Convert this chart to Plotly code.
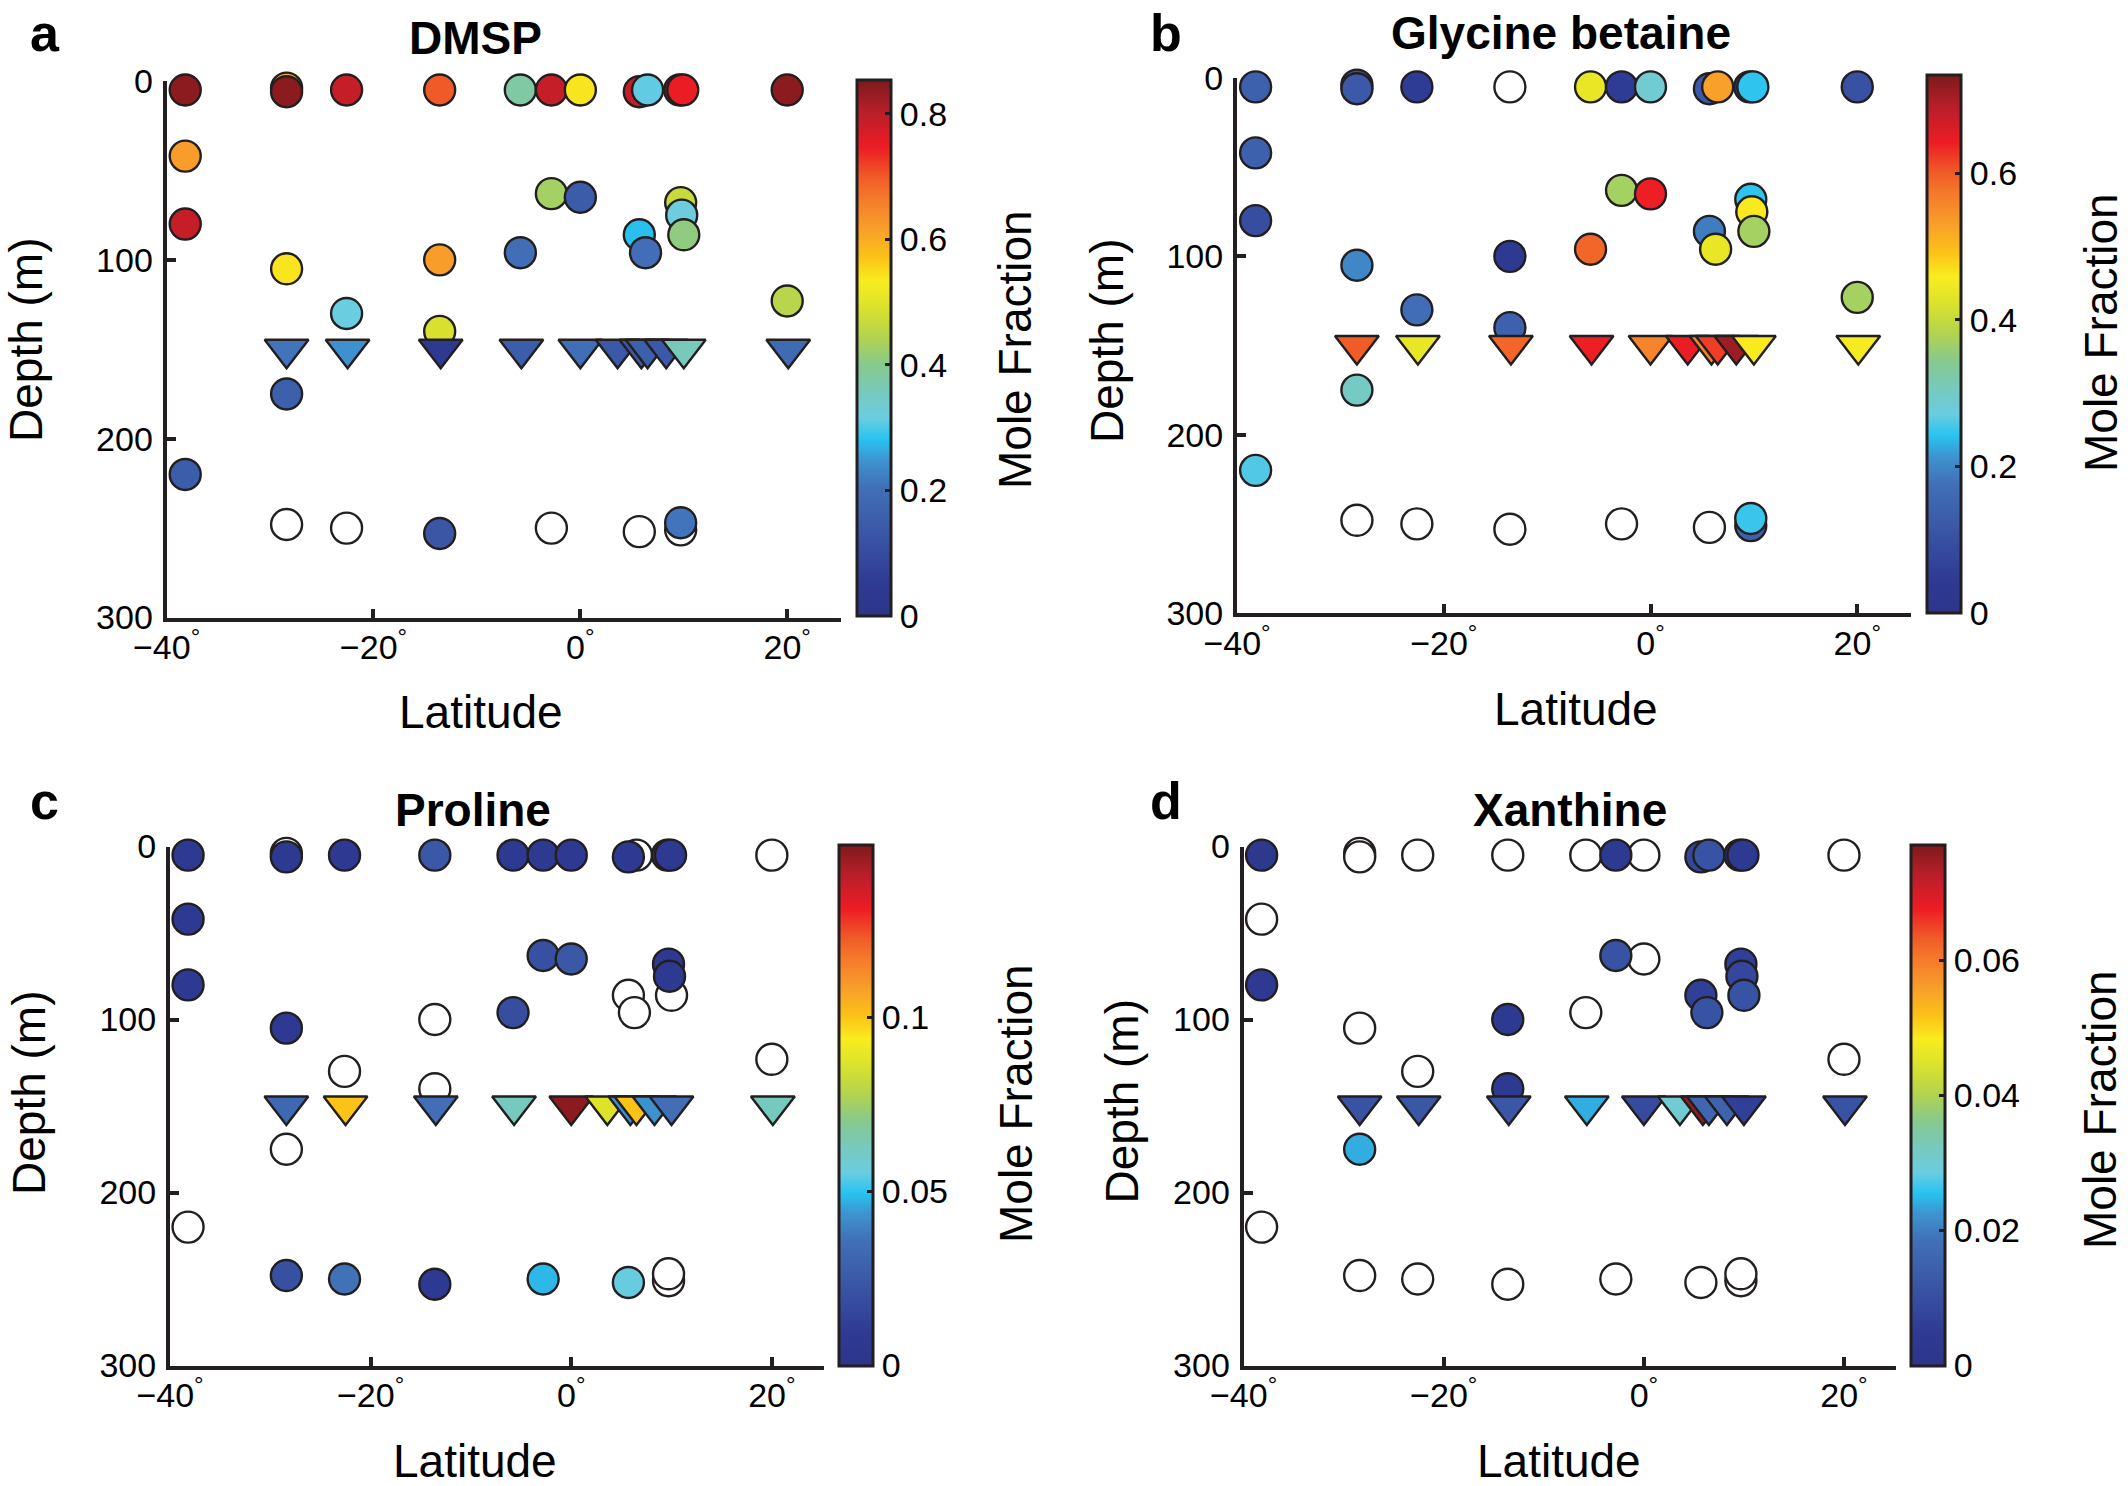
import plotly.graph_objects as go

W, H = 2128, 1486
FONT = "Liberation Sans, Arial, Helvetica, sans-serif"
INK = "#231f20"

# ---------------- data ----------------
circle_lat = [-38.2, -28.4, -28.4, -22.6, -13.6, -5.8, -2.8, 0.0, 5.7, 6.5, 9.6, 9.9, 20.0,
              -38.2, -38.2, -28.4, -13.6, -5.8, -2.8, 0.0, 9.7, 9.8, 10.0, 5.7, 6.3,
              -22.6, -13.6, 20.0, -28.4, -38.2,
              -28.4, -22.6, -13.6, -2.8, 5.7, 9.7, 9.7]
circle_depth = [5, 4, 6, 5, 5, 5, 5, 5, 6, 5, 5, 5, 5,
                42, 80, 105, 100, 96, 63, 65, 68, 75, 86, 86, 96,
                130, 140, 123, 175, 220,
                248, 250, 253, 250, 252, 251, 247]

tri_lat = [-28.4, -22.5, -13.5, -5.7, 0.0, 3.6, 5.9, 6.5, 8.3, 10.0, 20.1]
tri_depth = [150, 150, 150, 150, 150, 150, 150, 150, 150, 150, 150]

dmsp_circle = [0.84, 0.60, 0.84, 0.79, 0.70, 0.38, 0.79, 0.54, 0.79, 0.31, 0.84, 0.75, 0.84,
               0.62, 0.79, 0.54, 0.62, 0.20, 0.43, 0.145, 0.47, 0.32, 0.41, 0.28, 0.20,
               0.315, 0.49, 0.45, 0.16, 0.15,
               None, None, 0.13, None, None, None, 0.21]
dmsp_tri = [0.21, 0.245, 0.04, 0.15, 0.20, 0.14, 0.14, 0.16, 0.14, 0.36, 0.19]

gb_circle = [0.14, 0.10, 0.12, 0.05, None, 0.44, 0.05, 0.285, 0.12, 0.53, 0.05, 0.245, 0.10,
             0.14, 0.09, 0.20, 0.04, 0.59, 0.37, 0.64, 0.245, 0.46, 0.37, 0.19, 0.44,
             0.17, 0.14, 0.37, 0.30, 0.26,
             None, None, None, None, None, 0.14, 0.25]
gb_tri = [0.60, 0.44, 0.59, 0.64, 0.56, 0.645, 0.56, 0.62, 0.71, 0.46, 0.455]

pro_circle = [0.007, None, 0.007, 0.007, 0.024, 0.008, 0.008, 0.008, 0.008, None, 0.008, 0.008, None,
              0.007, 0.008, 0.008, None, 0.019, 0.02, 0.024, 0.008, 0.008, None, None, None,
              None, None, None, None, None,
              0.02, 0.036, 0.008, 0.048, 0.055, None, None]
pro_tri = [0.032, 0.10, 0.035, 0.062, 0.147, 0.087, 0.043, 0.10, 0.043, 0.035, 0.062]

xan_circle = [0.003, None, None, None, None, None, 0.004, None, 0.008, 0.011, 0.004, 0.004, None,
              None, 0.004, None, 0.004, None, 0.011, None, 0.006, 0.008, 0.011, 0.006, 0.011,
              None, 0.004, None, 0.024, None,
              None, None, None, None, None, None, None]
xan_tri = [0.011, 0.012, 0.012, 0.024, 0.009, 0.03, 0.075, 0.016, 0.015, 0.006, 0.011]

panel_letters = ["a", "b", "c", "d"]
panel_titles = ["DMSP", "Glycine betaine", "Proline", "Xanthine"]
circle_values = [dmsp_circle, gb_circle, pro_circle, xan_circle]
tri_values = [dmsp_tri, gb_tri, pro_tri, xan_tri]
cbar_max = [0.854, 0.734, 0.1495, 0.0771]
cbar_tickvals = [[0, 0.2, 0.4, 0.6, 0.8], [0, 0.2, 0.4, 0.6], [0, 0.05, 0.1], [0, 0.02, 0.04, 0.06]]
cbar_ticktext = [["0", "0.2", "0.4", "0.6", "0.8"], ["0", "0.2", "0.4", "0.6"],
                 ["0", "0.05", "0.1"], ["0", "0.02", "0.04", "0.06"]]
x_tickvals = [-40, -20, 0, 20]
x_ticktext = ["\u221240<sup>°</sup>", "\u221220<sup>°</sup>", "0<sup>°</sup>", "20<sup>°</sup>"]
y_tickvals = [0, 100, 200, 300]
y_ticktext = ["0", "100", "200", "300"]
x_title = "Latitude"
y_title = "Depth (m)"
cbar_title = "Mole Fraction"

colorscale = [
    [0.00, "#2c3589"], [0.06, "#2e3a93"], [0.15, "#3a55a5"], [0.24, "#4170b7"],
    [0.29, "#3e93d0"], [0.33, "#28c3f0"], [0.37, "#6ccde0"], [0.42, "#77c9bb"],
    [0.47, "#88c98c"], [0.52, "#b3d34f"], [0.58, "#dde32a"], [0.625, "#f8ec1f"],
    [0.67, "#fcc217"], [0.72, "#f8a12a"], [0.78, "#f4792a"], [0.82, "#f05a28"],
    [0.875, "#ed1c24"], [0.94, "#b91f2a"], [1.00, "#7b1a1c"],
]

# ---------------- geometry (pixels) ----------------
axes_px = [  # x0, x1, ytop, ybottom
    (166.6, 841.0, 81.0, 617.5),
    (1237.0, 1911.0, 78.0, 613.0),
    (170.0, 824.0, 846.5, 1365.5),
    (1243.6, 1896.0, 846.5, 1365.5),
]
cbar_px = [  # left, top, bottom
    (857.0, 79.6, 616.0),
    (1927.0, 75.5, 613.0),
    (839.4, 845.0, 1365.5),
    (1910.7, 845.0, 1365.5),
]
letter_px = [(45, 51), (1166, 51), (44, 819), (1166, 819)]
title_px = [(475.5, 53.6), (1561, 49), (472.5, 825.8), (1570, 826)]
xlab_px = [(481, 728), (1576, 725), (475, 1477), (1559, 1477)]
ylab_px = [(26, 340), (1107, 341), (29, 1093), (1121.5, 1102)]
cblab_px = [(1015, 350), (2101, 333), (1016, 1104), (2100, 1110)]


def px(x):
    return x / W


def py(y):
    return 1 - y / H


fig = go.Figure()
layout = dict(
    width=W, height=H, autosize=False,
    margin=dict(l=0, r=0, t=0, b=0, pad=0, autoexpand=False),
    paper_bgcolor="white", plot_bgcolor="white",
    showlegend=False,
    font=dict(family=FONT, color="black"),
)
annotations = []

for i in range(4):
    sfx = "" if i == 0 else str(i + 1)
    xref, yref, cax = "x" + sfx, "y" + sfx, "coloraxis" + sfx
    vals = circle_values[i]

    nan_lat = [la for la, v in zip(circle_lat, vals) if v is None]
    nan_dep = [d for d, v in zip(circle_depth, vals) if v is None]
    col_lat = [la for la, v in zip(circle_lat, vals) if v is not None]
    col_dep = [d for d, v in zip(circle_depth, vals) if v is not None]
    col_val = [v for v in vals if v is not None]

    fig.add_trace(go.Scatter(
        x=nan_lat, y=nan_dep, mode="markers", xaxis=xref, yaxis=yref,
        cliponaxis=False, hoverinfo="skip",
        marker=dict(symbol="circle", size=31, color="white", line=dict(color=INK, width=2.4)),
    ))
    fig.add_trace(go.Scatter(
        x=col_lat, y=col_dep, mode="markers", xaxis=xref, yaxis=yref,
        cliponaxis=False,
        marker=dict(symbol="circle", size=31, color=col_val, coloraxis=cax,
                    line=dict(color=INK, width=2.4)),
    ))
    fig.add_trace(go.Scatter(
        x=tri_lat, y=tri_depth, mode="markers", xaxis=xref, yaxis=yref,
        cliponaxis=False,
        marker=dict(symbol="triangle-down", size=38, color=tri_values[i], coloraxis=cax,
                    line=dict(color=INK, width=2.4)),
    ))

    x0, x1, yt, yb = axes_px[i]
    axis_common = dict(
        showline=True, linewidth=4, linecolor=INK, mirror=False,
        showgrid=False, zeroline=False, automargin=False,
        ticks="inside", ticklen=9, tickwidth=4, tickcolor=INK,
        tickfont=dict(size=34, family=FONT, color="black"),
    )
    layout["xaxis" + sfx] = dict(
        axis_common, domain=[px(x0), px(x1)], range=[-40, 25.2],
        tickmode="array", tickvals=x_tickvals, ticktext=x_ticktext,
        anchor=yref, ticklabelstandoff=-3,
    )
    layout["yaxis" + sfx] = dict(
        axis_common, domain=[py(yb), py(yt)], range=[300, 0],
        tickmode="array", tickvals=y_tickvals, ticktext=y_ticktext,
        anchor=xref, ticklabelstandoff=3,
    )

    cl, ct, cb = cbar_px[i]
    layout[cax] = dict(
        colorscale=colorscale, cmin=0, cmax=cbar_max[i],
        colorbar=dict(
            x=px(cl), xanchor="left", y=py(cb), yanchor="bottom",
            len=cb - ct, lenmode="pixels", thickness=34, thicknessmode="pixels",
            outlinewidth=3, outlinecolor=INK, xpad=0, ypad=0,
            ticks="inside", ticklen=7, tickwidth=3, tickcolor=INK,
            tickmode="array", tickvals=cbar_tickvals[i], ticktext=cbar_ticktext[i],
            tickfont=dict(size=34, family=FONT, color="black"),
        ),
    )

    lx, lb = letter_px[i]
    annotations.append(dict(text="<b>%s</b>" % panel_letters[i], x=px(lx), y=py(lb - 0.35 * 52),
                            xref="paper", yref="paper", xanchor="center", yanchor="middle",
                            showarrow=False, font=dict(size=52, family=FONT, color="black")))
    tx, tb = title_px[i]
    annotations.append(dict(text="<b>%s</b>" % panel_titles[i], x=px(tx), y=py(tb - 0.35 * 46),
                            xref="paper", yref="paper", xanchor="center", yanchor="middle",
                            showarrow=False, font=dict(size=46, family=FONT, color="black")))
    xx, xb = xlab_px[i]
    annotations.append(dict(text=x_title, x=px(xx), y=py(xb - 0.35 * 46),
                            xref="paper", yref="paper", xanchor="center", yanchor="middle",
                            showarrow=False, font=dict(size=46, family=FONT, color="black")))
    yx, yy = ylab_px[i]
    annotations.append(dict(text=y_title, x=px(yx), y=py(yy), textangle=-90,
                            xref="paper", yref="paper", xanchor="center", yanchor="middle",
                            showarrow=False, font=dict(size=46, family=FONT, color="black")))
    cx, cy = cblab_px[i]
    annotations.append(dict(text=cbar_title, x=px(cx), y=py(cy), textangle=-90,
                            xref="paper", yref="paper", xanchor="center", yanchor="middle",
                            showarrow=False, font=dict(size=46, family=FONT, color="black")))

layout["annotations"] = annotations
fig.update_layout(**layout)

fig.write_html("out.html", config={"displayModeBar": False},
               post_script="document.body.style.margin='0';document.body.style.overflow='hidden';")
